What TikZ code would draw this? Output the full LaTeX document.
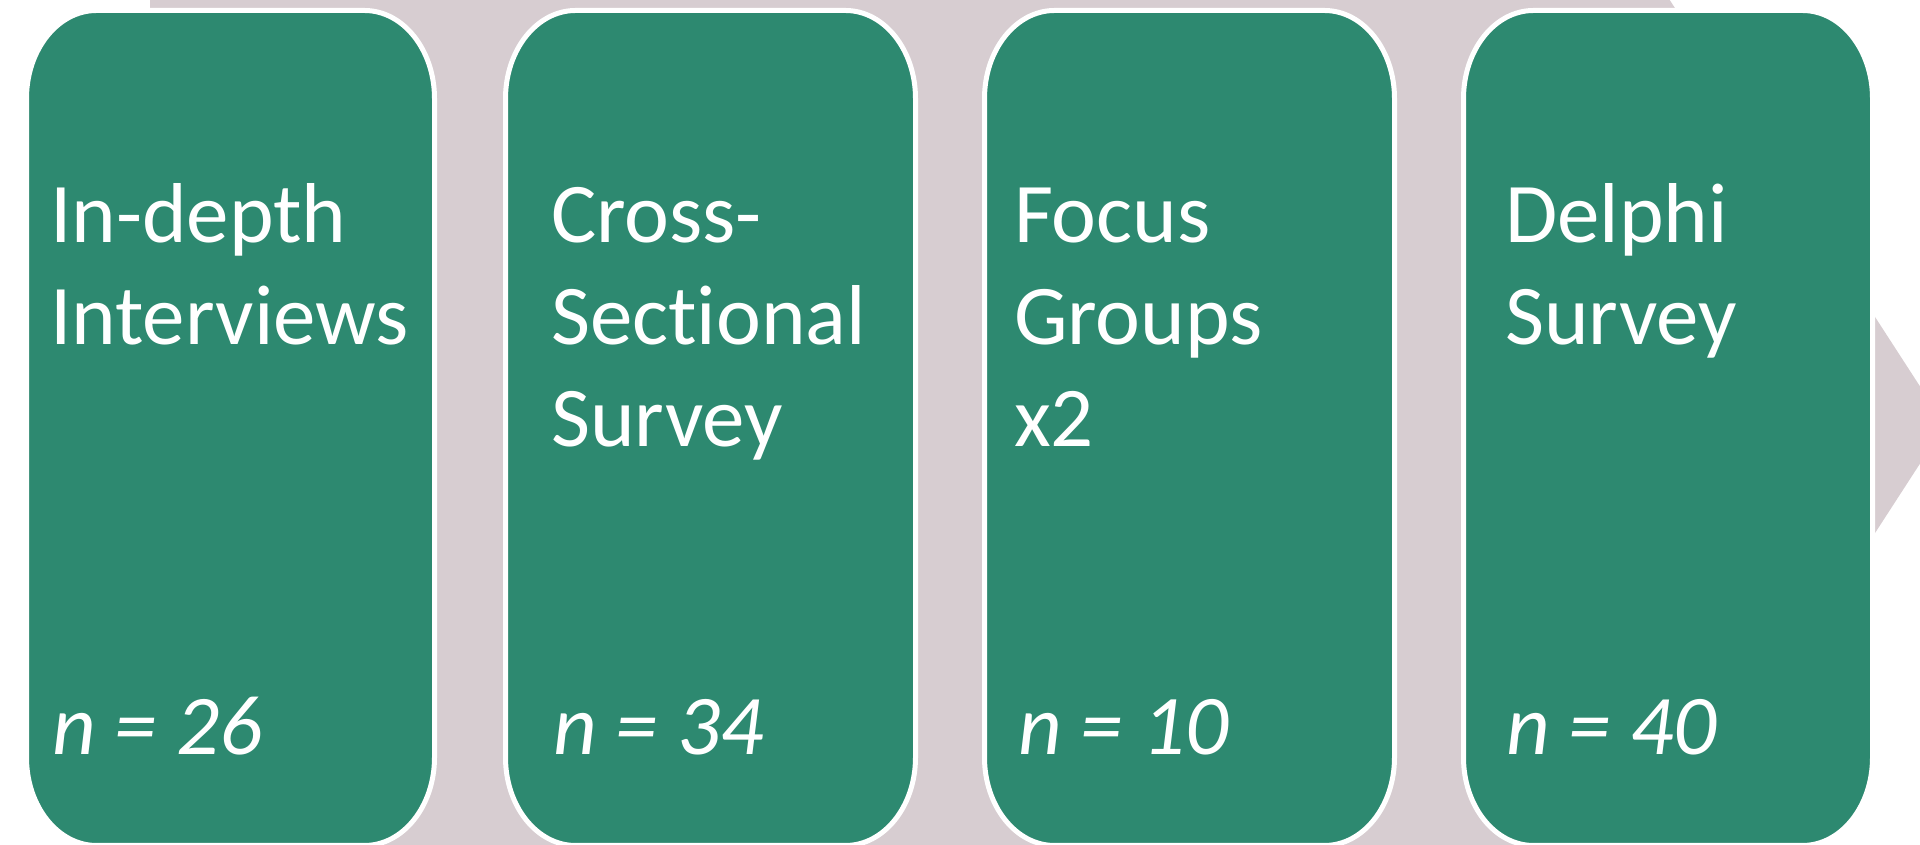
\documentclass[tikz,border=0pt]{standalone}
\usepackage{fontspec}
\setmainfont{Carlito}[Ligatures={NoCommon,NoRare}]
\definecolor{cardgreen}{RGB}{45,137,112}
\definecolor{arrowpink}{RGB}{215,205,209}
\tikzset{
  card/.style={fill=cardgreen, draw=white, line width=5pt},
  cardtext/.style={anchor=base west, inner sep=0pt, outer sep=0pt, text=white,
    font=\fontsize{85}{102}\selectfont},
  counttext/.style={cardtext, font=\fontsize{85}{102}\selectfont\itshape},
  bigarrow/.style={fill=arrowpink, draw=none}
}
\newcommand\cardshape[2]{%
  \path[card] (#1,746.5) -- (#1,87.5)
    arc[start angle=180,end angle=270,x radius=70,y radius=88]
    -- (#2-70,-0.5)
    arc[start angle=270,end angle=360,x radius=70,y radius=88]
    -- (#2,746.5)
    arc[start angle=0,end angle=90,x radius=70,y radius=88]
    -- (#1+70,834.5)
    arc[start angle=90,end angle=180,x radius=70,y radius=88]
    -- cycle;}
\begin{document}
\begin{tikzpicture}[x=1pt,y=1pt]
  \useasboundingbox (0,0) rectangle (1920,845);
  \clip (0,0) rectangle (1920,845);
  % background process arrow
  \path[bigarrow] (150,860) -- (1660,860) -- (1945,420) -- (1660,-20) -- (150,-20) -- cycle;
  % cards
  \cardshape{26.5}{434.5}
  \cardshape{505.5}{915.5}
  \cardshape{984.5}{1394.5}
  \cardshape{1463.5}{1872.5}
  % texts
  \node[cardtext] (t1) at (50,602) {\vtop{\hbox{In-depth}\hbox{Interviews}}};
  \node[counttext] (n1) at (52,90) {n = 26};
  \node[cardtext] (t2) at (551,602) {\vtop{\hbox{Cross-}\hbox{Sectional}\hbox{Survey}}};
  \node[counttext] (n2) at (553,90) {n = 34};
  \node[cardtext] (t3) at (1014,602) {\vtop{\hbox{Focus}\hbox{Groups}\hbox{x2}}};
  \node[counttext] (n3) at (1018,90) {n = 10};
  \node[cardtext] (t4) at (1505,602) {\vtop{\hbox{Delphi}\hbox{Survey}}};
  \node[counttext] (n4) at (1506,90) {n = 40};
\end{tikzpicture}
\end{document}
